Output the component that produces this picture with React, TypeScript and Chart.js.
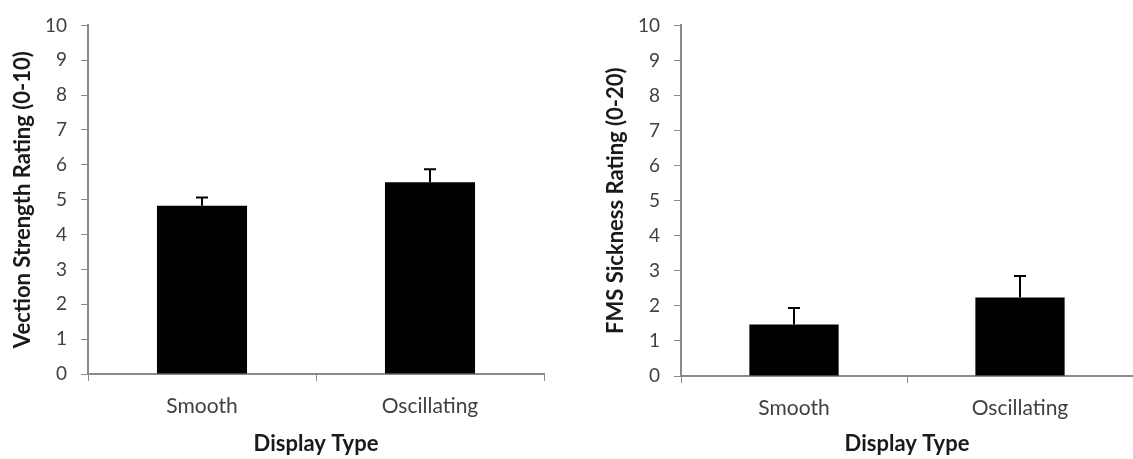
import React, { useEffect, useRef } from "react";
import { Chart, registerables } from "chart.js";

Chart.register(...registerables);

const categories = ["Smooth", "Oscillating"];
const vectionMeans = [4.83, 5.5];
const vectionErrors = [0.23, 0.37];
const fmsMeans = [1.47, 2.24];
const fmsErrors = [0.47, 0.61];
const yTicks = [0, 1, 2, 3, 4, 5, 6, 7, 8, 9, 10];
const leftYTitle = "Vection Strength Rating (0-10)";
const rightYTitle = "FMS Sickness Rating (0-20)";
const xTitle = "Display Type";

const FONT = "Lato, 'Open Sans', sans-serif";
const AXIS_COLOR = "#8a8a8a";
const TEXT_COLOR = "#404040";

const errorBarPlugin = {
  id: "errorBars",
  afterDatasetsDraw(chart: any) {
    const errs: number[] = chart.options.plugins.errorBars.errors;
    const meta = chart.getDatasetMeta(0);
    const ys = chart.scales.y;
    const ctx = chart.ctx;
    ctx.save();
    ctx.strokeStyle = "#000";
    ctx.lineWidth = 2;
    meta.data.forEach((bar: any, i: number) => {
      const v = chart.data.datasets[0].data[i];
      const yTop = ys.getPixelForValue(v + errs[i]);
      const yBar = ys.getPixelForValue(v);
      const x = Math.round(bar.x);
      ctx.beginPath();
      ctx.moveTo(x, yBar);
      ctx.lineTo(x, yTop);
      ctx.moveTo(x - 6, yTop);
      ctx.lineTo(x + 6, yTop);
      ctx.stroke();
    });
    ctx.restore();
  },
};

function makeConfig(values: number[], errors: number[], yTitle: string, top: number, bottomH: number, rightPad: number): any {
  return {
    type: "bar",
    data: {
      labels: categories,
      datasets: [
        {
          data: values,
          backgroundColor: "#000",
          borderColor: "#000",
          borderWidth: 0,
          barPercentage: 1,
          categoryPercentage: 0.395,
        },
      ],
    },
    plugins: [errorBarPlugin],
    options: {
      animation: false,
      responsive: false,
      maintainAspectRatio: false,
      layout: { padding: { top: top, left: 0, right: rightPad, bottom: 0 } },
      plugins: {
        legend: { display: false },
        tooltip: { enabled: false },
        errorBars: { errors },
      },
      scales: {
        x: {
          grid: {
            display: true,
            drawOnChartArea: false,
            drawTicks: true,
            tickLength: 7,
            color: AXIS_COLOR,
            offset: true,
          },
          border: { display: true, color: AXIS_COLOR, width: 2 },
          ticks: {
            color: TEXT_COLOR,
            font: { family: FONT, size: 21 },
            padding: 13,
            maxRotation: 0,
          },
          title: {
            display: true,
            text: xTitle,
            color: "#1a1a1a",
            font: { family: FONT, size: 22, weight: "bold" },
            padding: { top: 0, bottom: 2 },
          },
          afterFit(scale: any) {
            scale.height = bottomH;
          },
        },
        y: {
          min: 0,
          max: 10,
          afterBuildTicks(scale: any) {
            scale.ticks = yTicks.map((v) => ({ value: v }));
          },
          grid: {
            display: true,
            drawOnChartArea: false,
            drawTicks: true,
            tickLength: 7,
            color: AXIS_COLOR,
          },
          border: { display: true, color: AXIS_COLOR, width: 2 },
          ticks: {
            color: TEXT_COLOR,
            font: { family: FONT, size: 19 },
            padding: 14,
          },
          title: {
            display: true,
            text: yTitle,
            color: "#1a1a1a",
            font: { family: FONT, size: 22, weight: "bold" },
            padding: { top: 10, bottom: 0 },
          },
          afterFit(scale: any) {
            scale.width = 88;
          },
        },
      },
    },
  };
}

function BarChart(props: { values: number[]; errors: number[]; yTitle: string; left: number; width: number; top: number; bottomH: number; rightPad: number }) {
  const ref = useRef<HTMLCanvasElement | null>(null);
  useEffect(() => {
    if (!ref.current) return;
    const chart = new Chart(ref.current, makeConfig(props.values, props.errors, props.yTitle, props.top, props.bottomH, props.rightPad));
    return () => chart.destroy();
  }, []);
  return (
    <div style={{ position: "absolute", left: props.left, top: 0, width: props.width, height: 459 }}>
      <canvas ref={ref} width={props.width} height={459} style={{ width: props.width, height: 459, display: "block" }} />
    </div>
  );
}

export default function App() {
  return (
    <div style={{ position: "fixed", left: 0, top: 0, width: 1133, height: 459, background: "#fff", overflow: "hidden" }}>
      <BarChart values={vectionMeans} errors={vectionErrors} yTitle={leftYTitle} left={0} width={560} top={18} bottomH={85} rightPad={16} />
      <BarChart values={fmsMeans} errors={fmsErrors} yTitle={rightYTitle} left={593} width={540} top={20} bottomH={83} rightPad={0} />
    </div>
  );
}
